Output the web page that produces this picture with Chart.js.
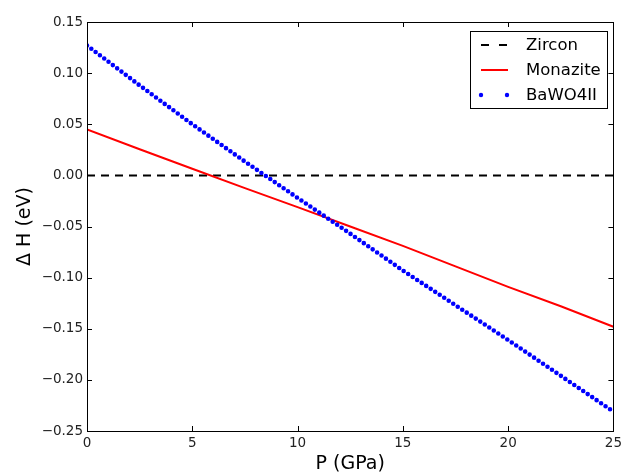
<!DOCTYPE html>
<html>
<head>
<meta charset="utf-8">
<script src="https://cdn.jsdelivr.net/npm/chart.js@4/dist/chart.umd.min.js"></script>
<style>
  html, body { margin: 0; padding: 0; background: #fff; }
</style>
</head>
<body>
<canvas id="chart" width="626" height="475"></canvas>
<script>
const pressure = [0, 2.5, 5, 7.5, 10, 12.5, 15, 17.5, 20, 22.5, 25];
const zircon   = [0, 0, 0, 0, 0, 0, 0, 0, 0, 0, 0];
const monazite = [0.045, 0.0255, 0.0065, -0.0125, -0.031, -0.050, -0.069, -0.089, -0.109, -0.128, -0.148];
const bawo4II  = [0.127, 0.088, 0.050, 0.0135, -0.022, -0.057, -0.093, -0.127, -0.161, -0.196, -0.231];
const xTicks = [0, 5, 10, 15, 20, 25];
const yTicks = [-0.25, -0.20, -0.15, -0.10, -0.05, 0.00, 0.05, 0.10, 0.15];

const FONT = 'DejaVu Sans';
const toPoints = ys => pressure.map((p, i) => ({ x: p, y: ys[i] }));

function fmtY(v) {
  const r = Math.round(v * 100) / 100;
  return (r < 0 ? '\u2212' : '') + Math.abs(r).toFixed(2);
}

// matplotlib-ish frame: box, inward ticks on all sides, legend inside the axes
const framePlugin = {
  id: 'frame',
  afterDraw(chart) {
    const ctx = chart.ctx;
    const { left, right, top, bottom } = chart.chartArea;
    const xs = chart.scales.x, ys = chart.scales.y;
    ctx.save();
    ctx.strokeStyle = '#000';
    ctx.lineWidth = 1;
    ctx.beginPath();
    xTicks.forEach(v => {
      const px = Math.round(xs.getPixelForValue(v)) + 0.5;
      ctx.moveTo(px, bottom); ctx.lineTo(px, bottom - 5);
      ctx.moveTo(px, top); ctx.lineTo(px, top + 5);
    });
    yTicks.forEach(v => {
      const py = Math.round(ys.getPixelForValue(v)) + 0.5;
      ctx.moveTo(left, py); ctx.lineTo(left + 5, py);
      ctx.moveTo(right, py); ctx.lineTo(right - 5, py);
    });
    ctx.stroke();
    ctx.strokeRect(Math.round(left) + 0.5, Math.round(top) + 0.5,
                   Math.round(right - left), Math.round(bottom - top));

    // legend
    const bx = 470.5, by = 31.5, bw = 137, bh = 77;
    ctx.fillStyle = '#fff';
    ctx.fillRect(bx, by, bw, bh);
    ctx.strokeRect(bx, by, bw, bh);
    const rows = [45, 70, 95];
    ctx.font = '16.5px "' + FONT + '"';
    ctx.textBaseline = 'middle';
    chart.data.datasets.forEach((ds, i) => {
      const y = rows[i];
      ctx.strokeStyle = ds.borderColor;
      ctx.fillStyle = ds.borderColor;
      if (ds.label === 'BaWO4II') {
        [481, 507].forEach(x => {
          ctx.beginPath(); ctx.arc(x, y, 2.2, 0, Math.PI * 2); ctx.fill();
        });
      } else {
        ctx.lineWidth = 2;
        ctx.setLineDash(ds.label === 'Zircon' ? [8, 10] : []);
        ctx.beginPath(); ctx.moveTo(481, y); ctx.lineTo(508, y); ctx.stroke();
        ctx.setLineDash([]);
      }
      ctx.fillStyle = '#000';
      ctx.fillText(ds.label, 526, y + 1);
    });
    ctx.restore();
  }
};

new Chart(document.getElementById('chart'), {
  type: 'line',
  data: {
    datasets: [
      {
        label: 'Zircon',
        data: toPoints(zircon),
        borderColor: '#000000',
        borderWidth: 2,
        borderDash: [8, 6],
        pointRadius: 0,
        order: 3
      },
      {
        label: 'Monazite',
        data: toPoints(monazite),
        borderColor: '#ff0000',
        borderWidth: 2,
        pointRadius: 0,
        order: 2
      },
      {
        label: 'BaWO4II',
        data: toPoints(bawo4II),
        borderColor: '#0000ff',
        borderWidth: 4.6,
        borderDash: [0, 5.4],
        borderCapStyle: 'round',
        pointRadius: 0,
        order: 1
      }
    ]
  },
  options: {
    responsive: false,
    animation: false,
    devicePixelRatio: 1,
    layout: { padding: { top: 22, right: 11, left: 0, bottom: 0 } },
    plugins: {
      legend: { display: false },
      tooltip: { enabled: false }
    },
    scales: {
      x: {
        type: 'linear',
        min: 0,
        max: 25,
        afterBuildTicks: s => { s.ticks = xTicks.map(v => ({ value: v })); },
        afterFit: s => { s.height = 44; },
        grid: { display: false, drawTicks: false },
        border: { display: false },
        ticks: { padding: 4, color: '#222', font: { family: FONT, size: 13.5 }, maxRotation: 0 },
        title: { display: true, text: 'P (GPa)', color: '#000', font: { family: FONT, size: 19 }, padding: { top: 0, bottom: 0 } }
      },
      y: {
        type: 'linear',
        min: -0.25,
        max: 0.15,
        afterBuildTicks: s => { s.ticks = yTicks.map(v => ({ value: v })); },
        afterFit: s => { s.width = 87; },
        grid: { display: false, drawTicks: false },
        border: { display: false },
        ticks: { padding: 4, color: '#222', font: { family: FONT, size: 13.5 }, callback: v => fmtY(v) },
        title: { display: true, text: '\u0394 H (eV)', color: '#000', font: { family: FONT, size: 19 }, padding: { top: 14, bottom: 0 } }
      }
    }
  },
  plugins: [framePlugin]
});
</script>
</body>
</html>
